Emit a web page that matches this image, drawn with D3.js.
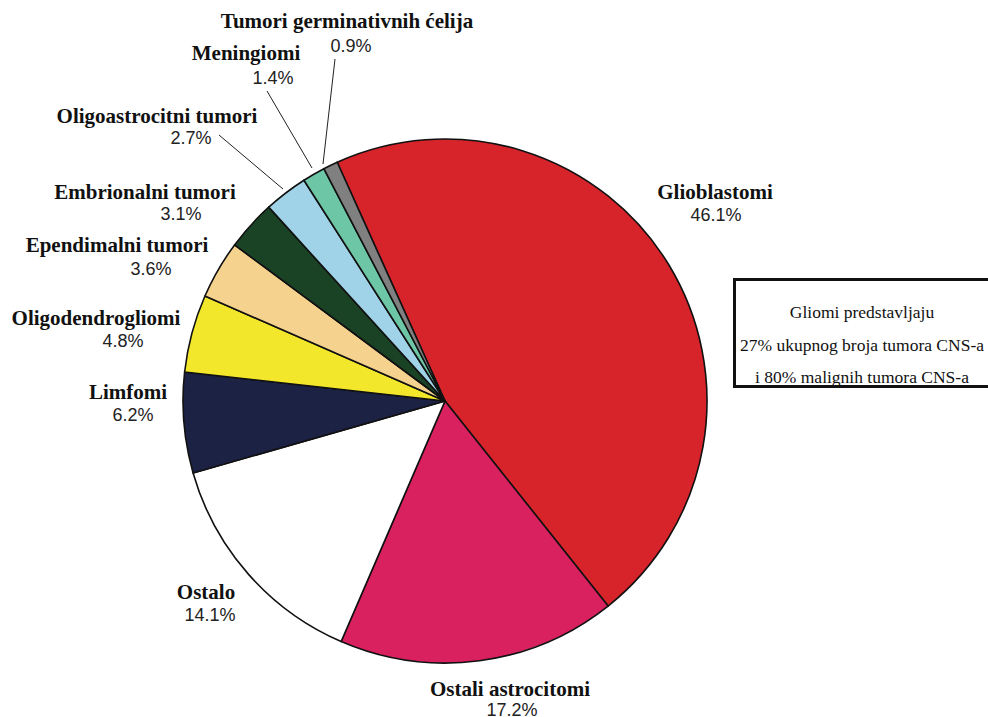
<!DOCTYPE html>
<html>
<head>
<meta charset="utf-8">
<script src="https://cdn.jsdelivr.net/npm/d3@7"></script>
<style>
  html, body { margin: 0; padding: 0; background: #fff; }
  svg { display: block; }
</style>
</head>
<body>
<svg id="chart" width="988" height="717"></svg>
<script>
// ---- data ----
const categories = ["Glioblastomi", "Ostali astrocitomi", "Ostalo", "Limfomi", "Oligodendrogliomi",
  "Ependimalni tumori", "Embrionalni tumori", "Oligoastrocitni tumori", "Meningiomi", "Tumori germinativnih ćelija"];
const values = [46.1, 17.2, 14.1, 6.2, 4.8, 3.6, 3.1, 2.7, 1.4, 0.9];
const valueLabels = ["46.1%", "17.2%", "14.1%", "6.2%", "4.8%", "3.6%", "3.1%", "2.7%", "1.4%", "0.9%"];
const colors = ["#d7242b", "#d9215f", "#ffffff", "#1c2244", "#f3e72c", "#f5d38f", "#1a4326", "#a0d3e8", "#6dc6a6", "#808080"];
const noteLines = ["Gliomi predstavljaju", "27% ukupnog broja tumora CNS-a", "i 80% malignih tumora CNS-a"];

// ---- layout (positions, not data) ----
const cx = 445, cy = 401, R = 262;
const startDeg = -24.3;
// label anchor positions: [x of name center, baseline of name, x of pct center, baseline of pct]
const labelPos = [
  [715, 199, 716, 221],
  [510, 696, 512, 716],
  [206, 599, 210, 621],
  [128, 399, 133, 421],
  [96, 325, 123, 347],
  [117, 252, 151, 275],
  [145, 199, 181, 220],
  [157, 123, 191, 144],
  [246, 60, 273, 84],
  [347, 28, 351, 52]
];
const leaders = { 7: [[219,135],[283,189]], 8: [[267,91],[312,168]], 9: [[335,59],[323,164]] };

const svg = d3.select("#chart");

const pie = d3.pie().sort(null)
  .startAngle(startDeg * Math.PI / 180)
  .endAngle(startDeg * Math.PI / 180 + 2 * Math.PI);
const arcs = pie(values);
const arc = d3.arc().innerRadius(0).outerRadius(R);

const g = svg.append("g").attr("transform", `translate(${cx},${cy})`);
g.selectAll("path").data(arcs).join("path")
  .attr("d", arc)
  .attr("fill", (d, i) => colors[i])
  .attr("stroke", "#111")
  .attr("stroke-width", 1.6)
  .attr("stroke-linejoin", "round");

// leader lines
Object.entries(leaders).forEach(([i, pts]) => {
  svg.append("line")
    .attr("x1", pts[0][0]).attr("y1", pts[0][1])
    .attr("x2", pts[1][0]).attr("y2", pts[1][1])
    .attr("stroke", "#222").attr("stroke-width", 1);
});

// labels
categories.forEach((c, i) => {
  const p = labelPos[i];
  svg.append("text")
    .attr("x", p[0]).attr("y", p[1])
    .attr("text-anchor", "middle")
    .attr("font-family", "'Liberation Serif', 'Times New Roman', serif")
    .attr("font-weight", "bold")
    .attr("font-size", 21)
    .attr("fill", "#111")
    .text(c);
  svg.append("text")
    .attr("x", p[2]).attr("y", p[3])
    .attr("text-anchor", "middle")
    .attr("font-family", "'Liberation Sans', Arial, Helvetica, sans-serif")
    .attr("font-size", 18)
    .attr("fill", "#222")
    .text(valueLabels[i]);
});

// note box
svg.append("rect")
  .attr("x", 734.5).attr("y", 279.5)
  .attr("width", 270).attr("height", 107)
  .attr("fill", "#fff")
  .attr("stroke", "#111").attr("stroke-width", 3);
const noteY = [318, 351, 383];
noteLines.forEach((t, i) => {
  svg.append("text")
    .attr("x", 862).attr("y", noteY[i])
    .attr("text-anchor", "middle")
    .attr("font-family", "'Liberation Serif', 'Times New Roman', serif")
    .attr("font-size", 17.5)
    .attr("fill", "#111")
    .text(t);
});
</script>
</body>
</html>
